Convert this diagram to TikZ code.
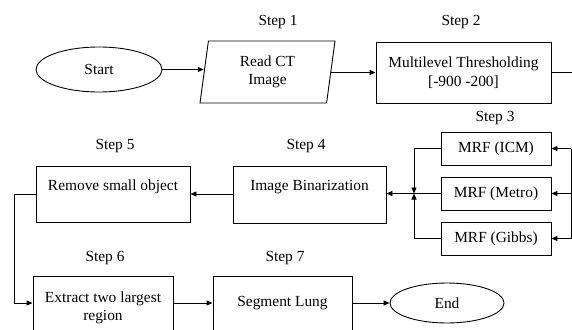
\documentclass[tikz,border=0pt]{standalone}
\usepackage{fontspec}
\setmainfont{Liberation Serif}
\usetikzlibrary{shapes.geometric,arrows.meta}
\begin{document}
\begin{tikzpicture}[x=1pt,y=-1pt,
  every node/.style={font=\fontsize{15.4}{18.5}\selectfont},
  box/.style={draw,line width=0.9pt,rectangle,inner sep=0pt,align=center},
  oval/.style={draw,line width=0.9pt,ellipse,inner sep=0pt},
  para/.style={draw,line width=0.9pt,trapezium,trapezium left angle=75.5,trapezium right angle=104.5,trapezium stretches body,inner sep=0pt,align=center},
  steplabel/.style={inner sep=0pt},
  conn/.style={line width=0.9pt},
  arr/.style={line width=0.9pt,-{Triangle[length=6pt,width=5pt]}}]
\useasboundingbox (0,0) rectangle (572,329);
\clip (0,0) rectangle (572,329);
% nodes
\node[oval,minimum width=126,minimum height=45] (start) at (99,69.5) {Start};
\node[para,minimum width=135,minimum height=62] (read) at (267.5,72) {Read CT\\Image};
\node[box,minimum width=175,minimum height=61] (thr) at (463.5,72.5) {Multilevel Thresholding\\{}[-900 -200]};
\node[box,minimum width=110,minimum height=33] (icm) at (496,148.5) {MRF (ICM)};
\node[box,minimum width=110,minimum height=33] (metro) at (496,193.5) {MRF (Metro)};
\node[box,minimum width=110,minimum height=33] (gibbs) at (496,238.5) {MRF (Gibbs)};
\node[box,minimum width=153,minimum height=57] (bin) at (309.5,194.5) {Image Binarization\\\mbox{}};
\node[box,minimum width=154,minimum height=56] (rem) at (113,194) {Remove small object\\\mbox{}};
\node[box,minimum width=140,minimum height=64] (ext) at (103,308) {Extract two largest\\region};
\node[box,minimum width=139,minimum height=54] (seg) at (282.5,303) {Segment Lung};
\node[oval,minimum width=114,minimum height=40] (end) at (447,303) {End};
% step labels
\node[steplabel] (s1) at (278,22) {Step 1};
\node[steplabel] (s2) at (461,22) {Step 2};
\node[steplabel] (s3) at (495,118) {Step 3};
\node[steplabel] (s4) at (306,146) {Step 4};
\node[steplabel] (s5) at (115,146) {Step 5};
\node[steplabel] (s6) at (105,258) {Step 6};
\node[steplabel] (s7) at (285,258) {Step 7};
% helper coordinates
\coordinate (jl) at (414,193.5);
\coordinate (rv) at (571,193.5);
\coordinate (rtop) at (571,148.5);
\coordinate (rbot) at (571,238.5);
\coordinate (thrend) at (580,72.5);
\coordinate (metroend) at (580,193.5);
\coordinate (lx) at (14,194);
% connectors
\draw[arr] (start.east) -- (read.west |- start.east);
\draw[arr] (read.east |- thr.west) -- (thr.west);
\draw[conn] (thr.east) -- (thrend);
\draw[conn] (rtop) -- (rbot);
\draw[conn] (rv) -- (metroend);
\draw[arr] (rtop) -- (icm.east);
\draw[arr] (rv) -- (metro.east);
\draw[arr] (rbot) -- (gibbs.east);
\draw[arr] (icm.west) -| (jl);
\draw[arr] (gibbs.west) -| (jl);
\draw[arr] (metro.west) -- (bin.east |- metro.west);
\draw[arr] (bin.west |- rem.east) -- (rem.east);
\draw[arr] (rem.west) -- (lx) |- (ext.west |- seg.west);
\draw[arr] (ext.east |- seg.west) -- (seg.west);
\draw[arr] (seg.east) -- (end.west);
\end{tikzpicture}
\end{document}
